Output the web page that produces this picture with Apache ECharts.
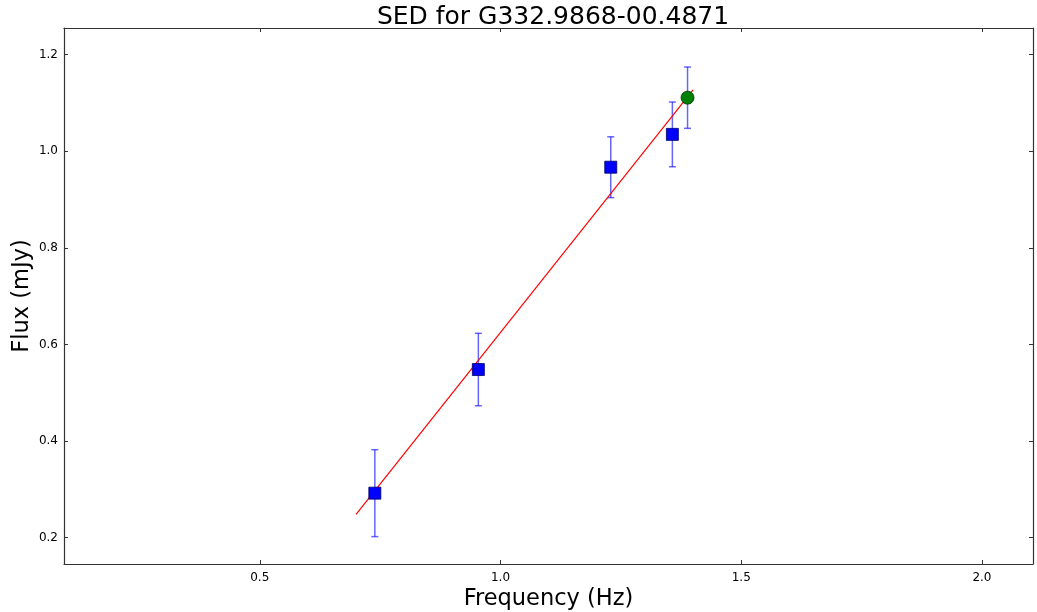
<!DOCTYPE html>
<html>
<head>
<meta charset="utf-8">
<script src="https://cdn.jsdelivr.net/npm/echarts@6/dist/echarts.min.js"></script>
<style>
  html, body { margin: 0; padding: 0; background: #fff; }
  #chart { width: 1037px; height: 612px; }
</style>
</head>
<body>
<div id="chart"></div>
<script>
// Measured fluxes (blue squares) with 1-sigma errors
const freq = [0.739, 0.954, 1.229, 1.357];
const flux = [0.292, 0.548, 0.967, 1.035];
const fluxErr = [0.090, 0.075, 0.063, 0.067];

// Extra point (green circle)
const extraFreq = [1.3885];
const extraFlux = [1.111];
const extraErr = [0.0635];

// Fitted line endpoints
const fitFreq = [0.70, 1.40];
const fitFlux = [0.248, 1.127];

// Tick labels
const xTicks = [0.5, 1.0, 1.5, 2.0];
const yTicks = [0.2, 0.4, 0.6, 0.8, 1.0, 1.2];

const X_MIN = 0.0934, X_MAX = 2.106;
const Y_MIN = 0.1453, Y_MAX = 1.2553;

const FONT = 'DejaVu Sans';

function errData(xs, ys, es) {
  return xs.map((x, i) => [x, ys[i] - es[i], ys[i] + es[i]]);
}

function errorBarItem(params, api) {
  const x = api.value(0);
  const lo = api.coord([x, api.value(1)]);
  const hi = api.coord([x, api.value(2)]);
  const cap = 3.5;
  const style = { stroke: 'rgba(0,0,255,0.6)', lineWidth: 1.5 };
  return {
    type: 'group',
    children: [
      { type: 'line', shape: { x1: lo[0], y1: lo[1], x2: hi[0], y2: hi[1] }, style },
      { type: 'line', shape: { x1: lo[0] - cap, y1: lo[1], x2: lo[0] + cap, y2: lo[1] }, style },
      { type: 'line', shape: { x1: hi[0] - cap, y1: hi[1], x2: hi[0] + cap, y2: hi[1] }, style }
    ]
  };
}

const frameLine = { show: true, onZero: false, lineStyle: { color: '#333', width: 1.2 } };
const innerTick = { show: true, inside: true, length: 4, lineStyle: { color: '#333' } };

const chart = echarts.init(document.getElementById('chart'), null, { renderer: 'canvas' });

chart.setOption({
  animation: false,
  backgroundColor: '#fff',
  title: {
    text: 'SED for G332.9868-00.4871',
    left: 548, top: 0, textAlign: 'center',
    textStyle: { fontFamily: FONT, fontSize: 25, fontWeight: 'normal', color: '#000' }
  },
  grid: { left: 64, top: 28, right: 4, bottom: 48, containLabel: false, outerBoundsMode: 'none' },
  xAxis: [
    {
      type: 'value', min: X_MIN, max: X_MAX, position: 'bottom',
      name: 'Frequency (Hz)', nameLocation: 'middle', nameGap: 24, nameMoveOverlap: false,
      nameTextStyle: { fontFamily: FONT, fontSize: 22.5, color: '#000' },
      axisLine: frameLine,
      axisTick: Object.assign({ customValues: xTicks }, innerTick),
      axisLabel: { customValues: xTicks, formatter: v => v.toFixed(1), fontFamily: FONT, fontSize: 12, color: '#000', margin: 8 },
      splitLine: { show: false }
    },
    {
      type: 'value', min: X_MIN, max: X_MAX, position: 'top',
      axisLine: frameLine,
      axisTick: Object.assign({ customValues: xTicks }, innerTick),
      axisLabel: { show: false },
      splitLine: { show: false }
    }
  ],
  yAxis: [
    {
      type: 'value', min: Y_MIN, max: Y_MAX, position: 'left',
      name: 'Flux (mJy)', nameLocation: 'middle', nameGap: 30, nameRotate: 90, nameMoveOverlap: false,
      nameTextStyle: { fontFamily: FONT, fontSize: 22.5, color: '#000' },
      axisLine: frameLine,
      axisTick: Object.assign({ customValues: yTicks }, innerTick),
      axisLabel: { customValues: yTicks, formatter: v => v.toFixed(1), fontFamily: FONT, fontSize: 12, color: '#000', margin: 6 },
      splitLine: { show: false }
    },
    {
      type: 'value', min: Y_MIN, max: Y_MAX, position: 'right',
      axisLine: frameLine,
      axisTick: Object.assign({ customValues: yTicks }, innerTick),
      axisLabel: { show: false },
      splitLine: { show: false }
    }
  ],
  series: [
    {
      type: 'line',
      data: fitFreq.map((x, i) => [x, fitFlux[i]]),
      showSymbol: false, symbol: 'none',
      lineStyle: { color: '#ff0000', width: 1.2 },
      z: 3
    },
    {
      type: 'custom',
      renderItem: errorBarItem,
      data: errData(freq, flux, fluxErr),
      encode: { x: 0, y: [1, 2] },
      z: 2
    },
    {
      type: 'custom',
      renderItem: errorBarItem,
      data: errData(extraFreq, extraFlux, extraErr),
      encode: { x: 0, y: [1, 2] },
      z: 2
    },
    {
      type: 'scatter',
      data: freq.map((x, i) => [x, flux[i]]),
      symbol: 'rect', symbolSize: 12,
      itemStyle: { color: '#0000ff', borderColor: '#000066', borderWidth: 0.8, opacity: 1 },
      z: 4
    },
    {
      type: 'scatter',
      data: extraFreq.map((x, i) => [x, extraFlux[i]]),
      symbol: 'circle', symbolSize: 13,
      itemStyle: { color: '#008000', borderColor: '#003300', borderWidth: 0.8, opacity: 1 },
      z: 5
    }
  ]
});
</script>
</body>
</html>
